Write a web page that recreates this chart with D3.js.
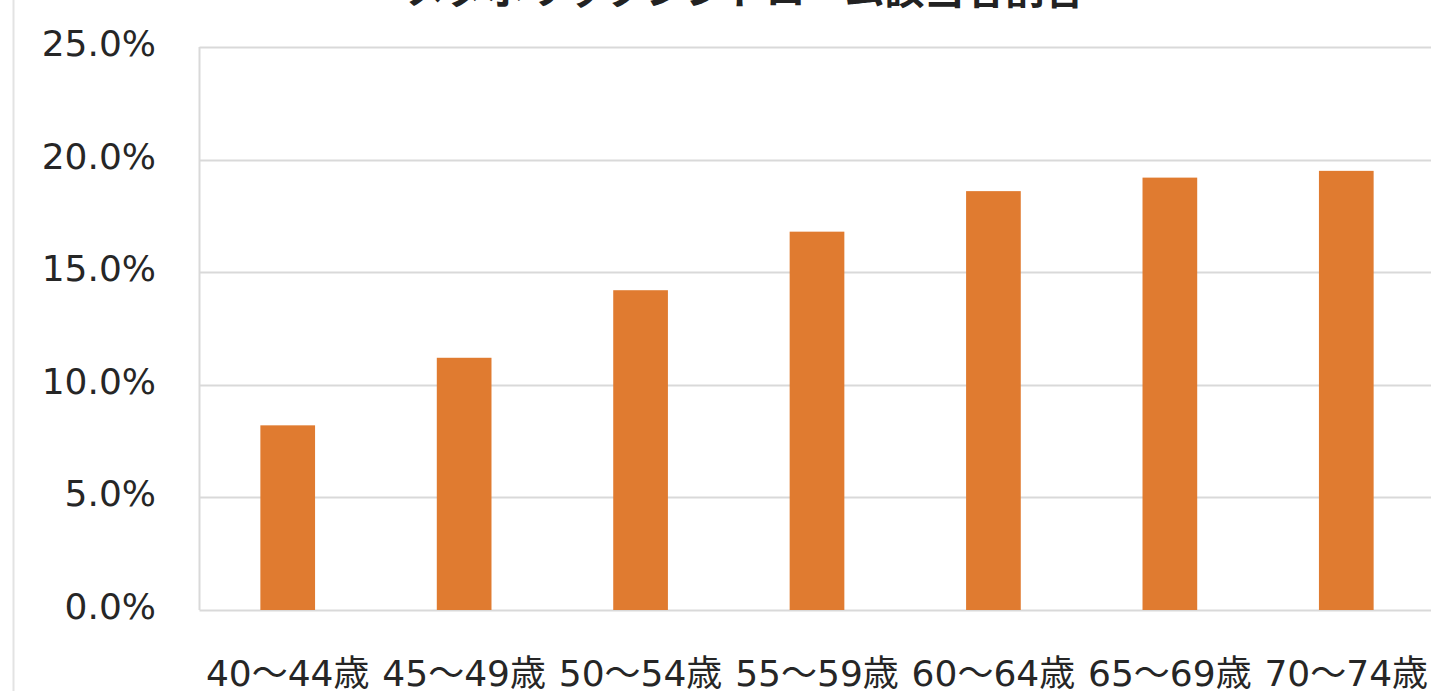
<!DOCTYPE html>
<html lang="ja">
<head>
<meta charset="utf-8">
<script src="https://cdn.jsdelivr.net/npm/d3@7"></script>
<style>
  html, body { margin: 0; padding: 0; background: #fff; }
  svg { display: block; }
</style>
</head>
<body>
<div id="chart"></div>
<script>
"use strict";

const title = "メタボリックシンドローム該当者割合";
const ageGroups = ["40〜44歳", "45〜49歳", "50〜54歳", "55〜59歳", "60〜64歳", "65〜69歳", "70〜74歳"];
const shareValues = [8.2, 11.2, 14.2, 16.8, 18.6, 19.2, 19.5];
const yTicks = [0, 5, 10, 15, 20, 25];

(function renderChart() {
  const width = 1431;
  const height = 691;
  const fontFamily = "'DejaVu Sans', 'Noto Sans CJK JP', sans-serif";
  const barColor = "#E07B30";
  const gridColor = "#D9D9D9";
  const textColor = "#262626";

  const svg = d3.select("#chart")
    .append("svg")
    .attr("width", width)
    .attr("height", height)
    .attr("viewBox", `0 0 ${width} ${height}`);

  // plot area (right side runs off the picture like the source)
  const plot = { left: 199.5, top: 47, bottom: 610, right: 1434.5 };

  const x = d3.scaleBand()
    .domain(ageGroups)
    .range([plot.left, plot.right])
    .paddingInner(0.69)
    .paddingOuter(0.345);

  const y = d3.scaleLinear()
    .domain([0, 25])
    .range([plot.bottom, plot.top]);

  // outer frame line on the left
  svg.append("line")
    .attr("x1", 13.5)
    .attr("x2", 13.5)
    .attr("y1", 0)
    .attr("y2", height)
    .attr("stroke", "#E3E3E3")
    .attr("stroke-width", 2);

  // title, cut off at the top edge as in the source picture
  svg.append("text")
    .attr("x", 745)
    .attr("y", 4)
    .attr("text-anchor", "middle")
    .attr("font-family", "'Noto Sans CJK JP', sans-serif")
    .attr("font-size", 40)
    .attr("font-weight", 700)
    .attr("fill", "#222")
    .text(title);

  svg.append("g")
    .selectAll("line.grid")
    .data(yTicks)
    .join("line")
    .attr("x1", plot.left)
    .attr("x2", width)
    .attr("y1", (v) => Math.round(y(v)) + 0.5)
    .attr("y2", (v) => Math.round(y(v)) + 0.5)
    .attr("stroke", gridColor)
    .attr("stroke-width", 2);

  svg.append("line")
    .attr("x1", plot.left)
    .attr("x2", plot.left)
    .attr("y1", plot.top)
    .attr("y2", plot.bottom)
    .attr("stroke", gridColor)
    .attr("stroke-width", 2);

  svg.append("g")
    .selectAll("rect.bar")
    .data(shareValues)
    .join("rect")
    .attr("x", (v, i) => x(ageGroups[i]))
    .attr("y", (v) => y(v))
    .attr("width", x.bandwidth())
    .attr("height", (v) => y(0) - y(v))
    .attr("fill", barColor);

  // y axis labels
  svg.append("g")
    .selectAll("text")
    .data(yTicks)
    .join("text")
    .attr("x", 156)
    .attr("y", (v) => y(v) + 9)
    .attr("text-anchor", "end")
    .attr("font-family", fontFamily)
    .attr("font-size", 36)
    .attr("fill", textColor)
    .text((v) => `${v.toFixed(1)}%`);

  // x axis labels
  svg.append("g")
    .selectAll("text")
    .data(ageGroups)
    .join("text")
    .attr("x", (d) => x(d) + x.bandwidth() / 2)
    .attr("y", 686)
    .attr("text-anchor", "middle")
    .attr("font-family", fontFamily)
    .attr("font-size", 36)
    .attr("fill", textColor)
    .text((d) => d);
})();
</script>
</body>
</html>
